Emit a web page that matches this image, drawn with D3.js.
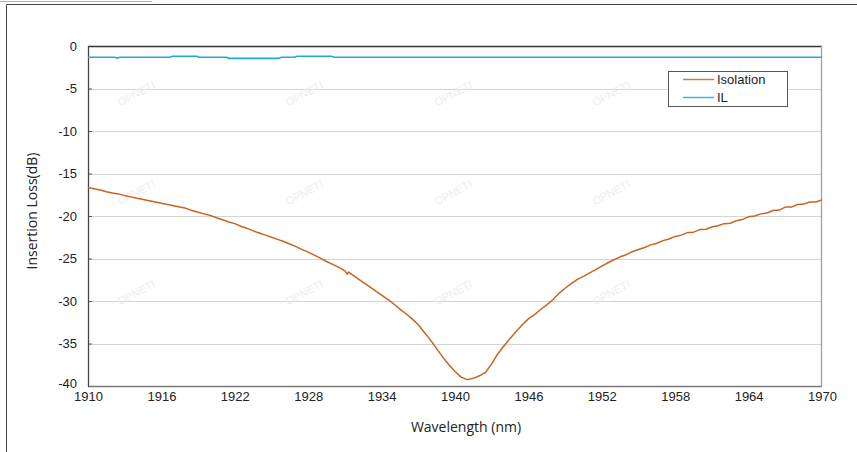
<!DOCTYPE html>
<html>
<head>
<meta charset="utf-8">
<script src="https://cdn.jsdelivr.net/npm/d3@7"></script>
<style>
  body { margin: 0; background: #fff; }
  svg { display: block; }
</style>
</head>
<body>
<svg id="chart" width="857" height="452"></svg>
<script>
// Isolation curve, [wavelength nm, dB]
var isolation = [
  [1910.0,-16.65],[1910.5,-16.8],[1911.0,-16.95],[1911.5,-17.15],[1912.0,-17.3],[1912.5,-17.4],
  [1913.0,-17.6],[1913.5,-17.75],[1914.0,-17.9],[1914.5,-18.05],[1915.0,-18.2],[1915.5,-18.35],
  [1916.0,-18.5],[1916.5,-18.65],[1917.0,-18.8],[1917.5,-18.95],[1918.0,-19.1],[1918.5,-19.35],
  [1919.0,-19.55],[1919.5,-19.75],[1920.0,-19.95],[1920.5,-20.2],[1921.0,-20.45],[1921.5,-20.7],
  [1922.0,-20.9],[1922.5,-21.2],[1923.0,-21.45],[1923.5,-21.75],[1924.0,-22.0],[1924.5,-22.25],
  [1925.0,-22.5],[1925.5,-22.75],[1926.0,-23.0],[1926.5,-23.3],[1927.0,-23.6],[1927.5,-23.95],
  [1928.0,-24.25],[1928.5,-24.6],[1929.0,-24.95],[1929.5,-25.35],[1930.0,-25.7],[1930.5,-26.05],
  [1931.0,-26.45],[1931.2,-26.85],[1931.3,-26.6],[1932.0,-27.3],[1932.5,-27.8],[1933.0,-28.3],
  [1933.5,-28.8],[1934.0,-29.3],[1934.5,-29.8],[1935.0,-30.35],[1935.5,-30.95],[1936.0,-31.5],
  [1936.5,-32.1],[1937.0,-32.8],[1937.5,-33.7],[1938.0,-34.6],[1938.5,-35.6],[1939.0,-36.6],
  [1939.5,-37.5],[1940.0,-38.3],[1940.5,-38.95],[1941.0,-39.25],[1941.5,-39.1],[1942.0,-38.8],
  [1942.5,-38.4],[1943.0,-37.4],[1943.5,-36.2],[1944.0,-35.3],[1944.5,-34.4],[1945.0,-33.6],
  [1945.5,-32.8],[1946.0,-32.1],[1946.5,-31.6],[1947.0,-31.0],[1947.5,-30.45],[1948.0,-29.85],
  [1948.5,-29.1],[1949.0,-28.5],[1949.5,-27.95],[1950.0,-27.45],[1950.5,-27.1],[1951.0,-26.7],
  [1951.5,-26.3],[1952.0,-25.9],[1952.5,-25.5],[1953.0,-25.15],[1953.5,-24.8],[1954.0,-24.55],
  [1954.5,-24.2],[1955.0,-23.95],[1955.5,-23.7],[1956.0,-23.4],[1956.5,-23.2],[1957.0,-22.9],
  [1957.5,-22.7],[1958.0,-22.4],[1958.5,-22.25],[1959.0,-21.95],[1959.5,-21.9],[1960.0,-21.6],
  [1960.5,-21.55],[1961.0,-21.3],[1961.5,-21.15],[1962.0,-20.9],[1962.5,-20.85],[1963.0,-20.55],
  [1963.5,-20.4],[1964.0,-20.1],[1964.5,-20.0],[1965.0,-19.75],[1965.5,-19.65],[1966.0,-19.35],
  [1966.5,-19.3],[1967.0,-18.95],[1967.5,-18.95],[1968.0,-18.65],[1968.5,-18.6],[1969.0,-18.35],
  [1969.5,-18.35],[1970.0,-18.1]
];

// IL curve, [wavelength nm, dB]
var il = [
  [1910,-1.33],[1912.2,-1.33],[1912.4,-1.42],[1912.6,-1.33],[1916.7,-1.33],[1916.9,-1.2],
  [1918.9,-1.2],[1919.1,-1.33],[1921.3,-1.33],[1921.5,-1.45],[1925.6,-1.45],[1925.8,-1.33],
  [1926.9,-1.33],[1927.1,-1.2],[1929.9,-1.2],[1930.1,-1.33],[1970,-1.33]
];

var xTicks = [1910, 1916, 1922, 1928, 1934, 1940, 1946, 1952, 1958, 1964, 1970];
var yTicks = [0, -5, -10, -15, -20, -25, -30, -35, -40];
var seriesNames = ["Isolation", "IL"];
var seriesColors = ["#c8641e", "#1fa8e0"];
var marks = ["OPNETI"];

var svg = d3.select("#chart");
// plot box (don't call these top/left: window.top is read-only)
var pLeft = 88, pRight = 822, pTop = 46, pBottom = 386;

var x = d3.scaleLinear().domain([1910, 1970]).range([pLeft, pRight]);
var y = d3.scaleLinear().domain([-40, 0]).range([pBottom, pTop]);

// plain hyphen minus like the original, not d3's unicode minus
function plain(d) { return String(d); }

// outer frame
svg.append("line").attr("x1", 0).attr("x2", 152).attr("y1", 1.5).attr("y2", 1.5)
  .attr("stroke", "#b0b0b0").attr("stroke-width", 1);
svg.append("path").attr("d", "M6.5,452V4.5H857")
  .attr("fill", "none").attr("stroke", "#444").attr("stroke-width", 1);

// gridlines
svg.append("g").selectAll("line")
  .data(yTicks.filter(function(d){ return d !== 0 && d !== -40; }))
  .enter().append("line")
    .attr("x1", pLeft).attr("x2", pRight)
    .attr("y1", function(d){ return Math.round(y(d)) + 0.5; })
    .attr("y2", function(d){ return Math.round(y(d)) + 0.5; })
    .attr("stroke", "#d4d4d4").attr("stroke-width", 1.2);

// watermarks
var wmX = [138, 306, 455, 613], wmY = [97, 196, 296];
var wm = svg.append("g");
wmY.forEach(function(yy){
  wmX.forEach(function(xx){
    wm.append("text")
      .attr("transform", "translate(" + xx + "," + yy + ") rotate(-28)")
      .attr("text-anchor", "middle")
      .attr("font-family", "Liberation Sans, Arial, sans-serif")
      .attr("font-size", 11)
      .attr("fill", "#ededed")
      .text(marks[0]);
  });
});

// y axis
var yAxis = svg.append("g").attr("transform", "translate(" + pLeft + ",0)")
  .call(d3.axisLeft(y).tickValues(yTicks).tickSize(-4).tickPadding(11).tickFormat(plain));
yAxis.select(".domain").remove();
yAxis.selectAll(".tick line").attr("stroke", "#595959");
yAxis.selectAll("text").attr("font-family", "Liberation Sans, Arial, sans-serif")
  .attr("font-size", 13).attr("fill", "#222");
yAxis.selectAll(".tick").filter(function(d){ return d === -40; }).select("text").attr("dy", "0.1em");

// x axis
var xAxis = svg.append("g").attr("transform", "translate(0," + pBottom + ")")
  .call(d3.axisBottom(x).tickValues(xTicks).tickSize(0).tickPadding(6).tickFormat(plain));
xAxis.select(".domain").remove();
xAxis.selectAll("text").attr("font-family", "Liberation Sans, Arial, sans-serif")
  .attr("font-size", 13).attr("fill", "#222");

// plot border
svg.append("line").attr("x1", pLeft).attr("x2", pRight).attr("y1", pTop + 0.5).attr("y2", pTop + 0.5)
  .attr("stroke", "#333").attr("stroke-width", 1.3);
svg.append("line").attr("x1", pRight - 0.5).attr("x2", pRight - 0.5).attr("y1", pTop).attr("y2", pBottom)
  .attr("stroke", "#a0a0a0").attr("stroke-width", 1.3);
svg.append("line").attr("x1", pLeft).attr("x2", pRight).attr("y1", pBottom + 0.5).attr("y2", pBottom + 0.5)
  .attr("stroke", "#7a7a7a").attr("stroke-width", 1.3);
svg.append("line").attr("x1", pLeft + 0.5).attr("x2", pLeft + 0.5).attr("y1", pTop).attr("y2", pBottom + 1)
  .attr("stroke", "#444").attr("stroke-width", 1.3);

// lines
var line = d3.line()
  .x(function(d){ return x(d[0]); })
  .y(function(d){ return y(d[1]); });

svg.append("path").datum(il)
  .attr("d", line).attr("fill", "none")
  .attr("stroke", seriesColors[1]).attr("stroke-width", 1.6);

svg.append("path").datum(isolation)
  .attr("d", line).attr("fill", "none")
  .attr("stroke", seriesColors[0]).attr("stroke-width", 1.5)
  .attr("stroke-linejoin", "round");

// legend
var legend = svg.append("g");
legend.append("rect").attr("x", 668.5).attr("y", 71.5).attr("width", 119).attr("height", 35)
  .attr("fill", "#fff").attr("stroke", "#555").attr("stroke-width", 1);
seriesNames.forEach(function(name, i){
  var ly = 79.5 + i * 18;
  legend.append("line").attr("x1", 683).attr("x2", 714).attr("y1", ly).attr("y2", ly)
    .attr("stroke", seriesColors[i]).attr("stroke-width", 1.5).attr("opacity", 0.85);
  legend.append("text").attr("x", 717).attr("y", ly + 4.5)
    .attr("font-family", "Liberation Sans, Arial, sans-serif").attr("font-size", 13)
    .attr("fill", "#222").text(name);
});

// axis titles
svg.append("text")
  .attr("transform", "translate(37,211) rotate(-90)")
  .attr("text-anchor", "middle")
  .attr("font-family", "Open Sans, Noto Sans, sans-serif").attr("font-size", 14)
  .attr("fill", "#222").text("Insertion Loss(dB)");
svg.append("text")
  .attr("x", 466).attr("y", 432)
  .attr("text-anchor", "middle")
  .attr("font-family", "Open Sans, Noto Sans, sans-serif").attr("font-size", 14)
  .attr("fill", "#222").text("Wavelength (nm)");
</script>
</body>
</html>
